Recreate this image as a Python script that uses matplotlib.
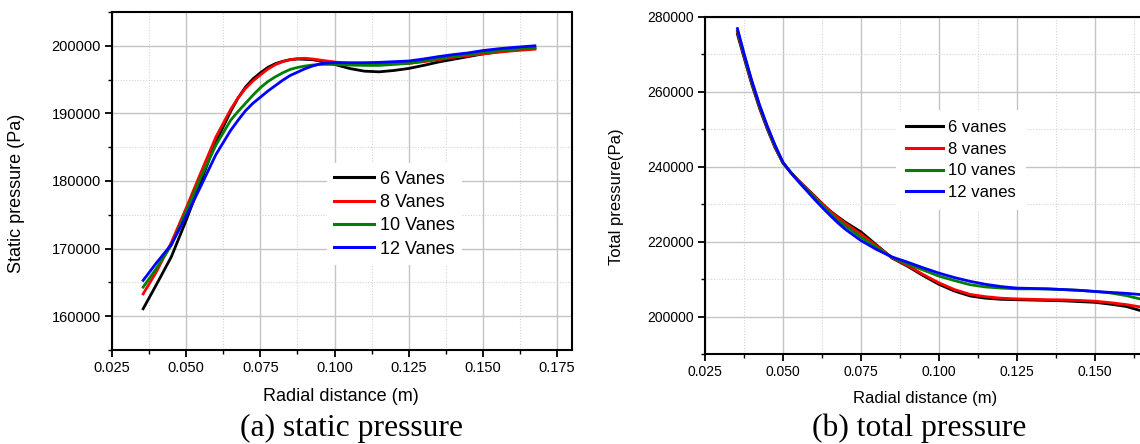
import matplotlib
matplotlib.use("Agg")
import matplotlib.pyplot as plt
from matplotlib.ticker import MultipleLocator, FixedLocator

plt.rcParams['font.family'] = ['Liberation Sans', 'DejaVu Sans']

# ---------------- data: (a) static pressure ----------------
x_static = [0.0355, 0.040, 0.045, 0.050, 0.055, 0.060, 0.065, 0.0675, 0.070, 0.0725,
            0.075, 0.0775, 0.080, 0.0825, 0.085, 0.0875, 0.090, 0.0925, 0.095, 0.0975,
            0.100, 0.105, 0.110, 0.115, 0.120, 0.125, 0.130, 0.135, 0.140, 0.145,
            0.150, 0.155, 0.160, 0.1675]
static_6 = [161100, 164700, 168800, 174200, 180000, 185800, 190300, 192300, 193900, 195100,
            196000, 196800, 197350, 197700, 197950, 198050, 198000, 197950, 197750, 197500,
            197250, 196650, 196250, 196150, 196350, 196650, 197100, 197600, 198000, 198400,
            198800, 199100, 199350, 199650]
static_8 = [163300, 166600, 170900, 176000, 181300, 186500, 190600, 192300, 193700, 194800,
            195700, 196550, 197200, 197650, 197950, 198100, 198150, 198050, 197900, 197750,
            197600, 197400, 197300, 197300, 197350, 197400, 197650, 197950, 198300, 198550,
            198800, 199050, 199250, 199500]
static_10 = [164300, 167100, 170500, 175500, 180600, 185300, 189000, 190300, 191500, 192700,
             193800, 194700, 195400, 196000, 196500, 196800, 197000, 197150, 197250, 197250,
             197250, 197150, 197100, 197100, 197250, 197400, 197750, 198100, 198450, 198750,
             199000, 199250, 199450, 199700]
static_12 = [165300, 167900, 170600, 174800, 179300, 183900, 187500, 189000, 190400, 191500,
             192400, 193300, 194100, 194900, 195600, 196100, 196600, 197000, 197300, 197450,
             197500, 197500, 197500, 197550, 197650, 197750, 198050, 198400, 198700, 198950,
             199300, 199550, 199750, 200000]
static_labels = ["6 Vanes", "8 Vanes", "10 Vanes", "12 Vanes"]

# ---------------- data: (b) total pressure ----------------
x_total = [0.0354, 0.0375, 0.040, 0.0425, 0.045, 0.0475, 0.050, 0.0525, 0.055, 0.0575,
           0.060, 0.0625, 0.065, 0.0675, 0.070, 0.075, 0.080, 0.085, 0.090, 0.095,
           0.100, 0.105, 0.110, 0.115, 0.120, 0.125, 0.130, 0.135, 0.140, 0.145,
           0.150, 0.155, 0.160, 0.165, 0.168]
total_6 = [275400, 269200, 262000, 255600, 250000, 245000, 241000, 238500, 236300, 234300,
           232300, 230200, 228300, 226700, 225200, 222600, 219100, 215600, 213400, 210900,
           208600, 206800, 205500, 204900, 204600, 204500, 204400, 204300, 204200, 204000,
           203800, 203300, 202700, 201500, 200700]
total_8 = [276000, 269700, 262500, 256000, 250300, 245200, 241000, 238500, 236300, 234200,
           232200, 230200, 228200, 226500, 224900, 222000, 218900, 215700, 213600, 211200,
           209000, 207200, 205900, 205300, 204900, 204700, 204600, 204500, 204450, 204300,
           204100, 203700, 203200, 202500, 202000]
total_10 = [276300, 269900, 262700, 256200, 250500, 245400, 241100, 238500, 236200, 234000,
            231800, 229700, 227700, 225800, 224200, 221200, 218500, 215800, 214000, 212400,
            210800, 209600, 208500, 207900, 207600, 207400, 207400, 207350, 207200, 207000,
            206700, 206300, 205600, 204600, 203800]
total_12 = [276900, 270300, 263000, 256500, 250800, 245700, 241200, 238400, 236000, 233700,
            231400, 229200, 227100, 225100, 223300, 220300, 217900, 215900, 214500, 213000,
            211600, 210400, 209400, 208600, 208000, 207600, 207500, 207400, 207200, 207000,
            206700, 206450, 206200, 205850, 205600]
total_labels = ["6 vanes", "8 vanes", "10 vanes", "12 vanes"]

x_ticks = [0.025, 0.05, 0.075, 0.1, 0.125, 0.15, 0.175]
x_ticklabels_a = ["0.025", "0.050", "0.075", "0.100", "0.125", "0.150", "0.175"]
x_ticklabels_b = ["0.025", "0.050", "0.075", "0.100", "0.125", "0.150", ""]

colors = ["#000000", "#ff0000", "#008000", "#0000ff"]

W, H = 1140, 444
fig = plt.figure(figsize=(W / 100, H / 100), dpi=100)


def px_box(l, t, r, b):
    return [l / W, 1 - b / H, (r - l) / W, (b - t) / H]


def style(ax, fs_tick):
    for s in ax.spines.values():
        s.set_linewidth(1.5)
        s.set_color("black")
    ax.grid(which="major", color="#c4c4c4", linewidth=1.0, linestyle="-")
    ax.grid(which="minor", color="#d4d4d4", linewidth=0.8, linestyle=(0, (1, 1.5)))
    ax.set_axisbelow(True)
    ax.tick_params(which="major", direction="out", length=5, width=1.3,
                   labelsize=fs_tick, top=False, right=False, pad=3)
    ax.tick_params(which="minor", direction="out", length=3, width=1.0,
                   top=False, right=False)


# ---------- (a) ----------
axa = fig.add_axes(px_box(112, 12, 572, 350))
for y, lab, c in zip([static_6, static_8, static_10, static_12], static_labels, colors):
    axa.plot(x_static, y, color=c, lw=2.0, label=lab, solid_joinstyle="round")
axa.set_xlim(0.025, 0.180)
axa.set_ylim(155000, 205000)
axa.xaxis.set_major_locator(FixedLocator(x_ticks))
axa.xaxis.set_minor_locator(MultipleLocator(0.0125))
axa.yaxis.set_major_locator(MultipleLocator(10000))
axa.yaxis.set_minor_locator(MultipleLocator(5000))
axa.set_xticklabels(x_ticklabels_a)
style(axa, 10.5)
leg = axa.legend(loc="upper left", bbox_to_anchor=(0.467, 0.553), fontsize=13,
                 frameon=True, fancybox=False, edgecolor="none", framealpha=1,
                 handlelength=2.2, handletextpad=0.3, labelspacing=0.35,
                 borderpad=0.42, borderaxespad=0)
for l in leg.get_lines():
    l.set_linewidth(2.2)

# ---------- (b) ----------
axb = fig.add_axes(px_box(705, 17, 705 + 472 * 155 / 151.3, 354))
for y, lab, c in zip([total_6, total_8, total_10, total_12], total_labels, colors):
    axb.plot(x_total, y, color=c, lw=2.0, label=lab, solid_joinstyle="round")
axb.set_xlim(0.025, 0.180)
axb.set_ylim(190000, 280000)
axb.xaxis.set_major_locator(FixedLocator(x_ticks))
axb.xaxis.set_minor_locator(MultipleLocator(0.0125))
axb.yaxis.set_major_locator(MultipleLocator(20000))
axb.yaxis.set_minor_locator(MultipleLocator(10000))
axb.set_xticklabels(x_ticklabels_b)
style(axb, 10)
leg2 = axb.legend(loc="upper left", bbox_to_anchor=(0.396, 0.724), fontsize=12,
                  frameon=True, fancybox=False, edgecolor="none", framealpha=1,
                  handlelength=2.2, handletextpad=0.3, labelspacing=0.4,
                  borderpad=0.6, borderaxespad=0)
for l in leg2.get_lines():
    l.set_linewidth(2.2)

# ---------- labels ----------
fig.text(341 / W, 1 - 396 / H, "Radial distance (m)", fontsize=13, ha="center", va="center")
fig.text(17 / W, 1 - 193 / H, "Static pressure (Pa)", fontsize=13, ha="center", va="center",
         rotation=90)
fig.text(925 / W, 1 - 398 / H, "Radial distance (m)", fontsize=12, ha="center", va="center")
fig.text(617 / W, 1 - 197 / H, "Total pressure(Pa)", fontsize=12, ha="center", va="center",
         rotation=90)

fig.text(351 / W, 1 - 428 / H, "(a) static pressure", fontsize=22.8, ha="center", va="center",
         family=["Liberation Serif", "DejaVu Serif"])
fig.text(919.5 / W, 1 - 428 / H, "(b) total pressure", fontsize=22.8, ha="center", va="center",
         family=["Liberation Serif", "DejaVu Serif"])

fig.savefig("out.png", dpi=100)
